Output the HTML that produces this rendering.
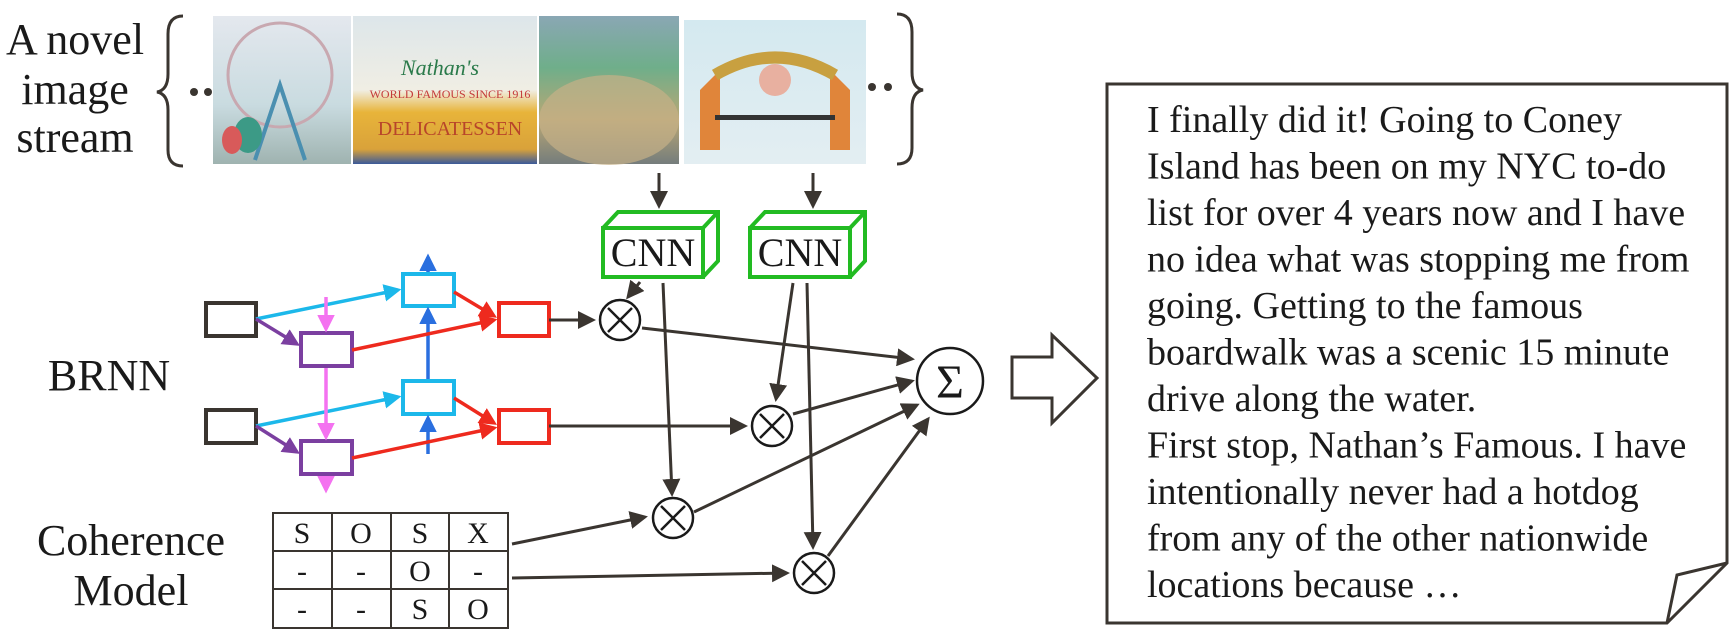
<!DOCTYPE html>
<html><head><meta charset="utf-8"><style>
html,body{margin:0;padding:0;background:#fff;}
svg{display:block;font-family:"Liberation Serif","Times New Roman",serif;}
svg text{font-family:"Liberation Serif","Times New Roman",serif;fill:#1a1a1a;}
</style></head><body>
<svg width="1734" height="640" viewBox="0 0 1734 640" xmlns="http://www.w3.org/2000/svg" font-family="Liberation Serif, serif">
<defs>
<marker id="ak" markerWidth="6" markerHeight="6" refX="5" refY="3" orient="auto" markerUnits="strokeWidth"><path d="M0,0 L6,3 L0,6 z" fill="#3a3530"/></marker>
<marker id="ac" markerWidth="5" markerHeight="5" refX="4" refY="2.5" orient="auto" markerUnits="strokeWidth"><path d="M0,0 L5,2.5 L0,5 z" fill="#1cb8ea"/></marker>
<marker id="ap" markerWidth="5" markerHeight="5" refX="4" refY="2.5" orient="auto" markerUnits="strokeWidth"><path d="M0,0 L5,2.5 L0,5 z" fill="#7b3fa0"/></marker>
<marker id="apk" markerWidth="5" markerHeight="5" refX="4" refY="2.5" orient="auto" markerUnits="strokeWidth"><path d="M0,0 L5,2.5 L0,5 z" fill="#f472f0"/></marker>
<marker id="ab" markerWidth="5" markerHeight="5" refX="4" refY="2.5" orient="auto" markerUnits="strokeWidth"><path d="M0,0 L5,2.5 L0,5 z" fill="#2a6fdf"/></marker>
<marker id="ar" markerWidth="5" markerHeight="5" refX="4" refY="2.5" orient="auto" markerUnits="strokeWidth"><path d="M0,0 L5,2.5 L0,5 z" fill="#ee2a1e"/></marker>
<linearGradient id="g1" x1="0" y1="0" x2="0" y2="1"><stop offset="0" stop-color="#e4e8ee"/><stop offset="0.6" stop-color="#c9dbe0"/><stop offset="1" stop-color="#9fb3b0"/></linearGradient>
<linearGradient id="g2" x1="0" y1="0" x2="0" y2="1"><stop offset="0" stop-color="#dde6ea"/><stop offset="0.5" stop-color="#f0eee4"/><stop offset="0.65" stop-color="#e8b43a"/><stop offset="0.9" stop-color="#d9a23a"/><stop offset="1" stop-color="#3b5a9a"/></linearGradient>
<linearGradient id="g3" x1="0" y1="0" x2="0" y2="1"><stop offset="0" stop-color="#8aa7b4"/><stop offset="0.35" stop-color="#6fae8a"/><stop offset="0.7" stop-color="#b9a774"/><stop offset="1" stop-color="#757d7c"/></linearGradient>
<linearGradient id="g4" x1="0" y1="0" x2="0" y2="1"><stop offset="0" stop-color="#d4e9f0"/><stop offset="1" stop-color="#e3eef2"/></linearGradient>
</defs>

<text x="75" y="54" font-size="44" text-anchor="middle">A novel</text>
<text x="75" y="104" font-size="44" text-anchor="middle">image</text>
<text x="75" y="152" font-size="44" text-anchor="middle">stream</text>
<text x="109" y="390" font-size="44" text-anchor="middle">BRNN</text>
<text x="131" y="555" font-size="44" text-anchor="middle">Coherence</text>
<text x="131" y="605" font-size="44" text-anchor="middle">Model</text>

<path d="M183,16 Q168,16 168,34 L168,74 Q168,90 157,92 Q168,94 168,110 L168,150 Q168,166 183,166" fill="none" stroke="#3a3530" stroke-width="3"/>
<path d="M897,14 Q912,14 912,32 L912,72 Q912,88 923,90 Q912,92 912,108 L912,148 Q912,164 897,164" fill="none" stroke="#3a3530" stroke-width="3"/>
<circle cx="194" cy="92" r="4" fill="#3a3530"/><circle cx="208" cy="92" r="4" fill="#3a3530"/>
<circle cx="872" cy="87" r="4" fill="#3a3530"/><circle cx="888" cy="87" r="4" fill="#3a3530"/>

<rect x="213" y="16" width="138" height="148" fill="url(#g1)"/>
<circle cx="280" cy="75" r="52" fill="none" stroke="#c8a8b0" stroke-width="3"/>
<path d="M255,160 L280,85 L305,160" fill="none" stroke="#4a8fb0" stroke-width="4"/>
<ellipse cx="248" cy="135" rx="14" ry="18" fill="#3c9a86"/>
<ellipse cx="232" cy="140" rx="10" ry="14" fill="#d85a5a"/>
<rect x="353" y="16" width="184" height="148" fill="url(#g2)"/>
<text x="440" y="75" font-size="22" style="fill:#2a7a4a" font-style="italic" text-anchor="middle">Nathan's</text>
<text x="450" y="98" font-size="12" style="fill:#c43a3a" text-anchor="middle">WORLD FAMOUS SINCE 1916</text>
<text x="450" y="135" font-size="20" style="fill:#b8452a" text-anchor="middle">DELICATESSEN</text>
<rect x="539" y="16" width="140" height="148" fill="url(#g3)"/>
<ellipse cx="609" cy="120" rx="70" ry="45" fill="#c6b088" opacity="0.7"/>
<rect x="684" y="20" width="182" height="144" fill="url(#g4)"/>
<path d="M700,150 L700,90 L720,70 L720,150 z" fill="#e0853a"/>
<path d="M850,150 L850,90 L830,70 L830,150 z" fill="#e0853a"/>
<path d="M715,75 Q775,40 835,75" fill="none" stroke="#c8a040" stroke-width="12"/>
<circle cx="775" cy="80" r="16" fill="#e8b0a0"/>
<rect x="715" y="115" width="120" height="5" fill="#333"/>

<line x1="659" y1="173" x2="659" y2="206" stroke="#3a3530" stroke-width="3" marker-end="url(#ak)"/>
<line x1="813" y1="173" x2="813" y2="206" stroke="#3a3530" stroke-width="3" marker-end="url(#ak)"/>

<g fill="none" stroke="#22bb22" stroke-width="4">
<rect x="603" y="228" width="100" height="49"/>
<path d="M603,228 L618,212 L718,212 L718,261 L703,277 M703,228 L718,212"/>
<rect x="750" y="228" width="100" height="49"/>
<path d="M750,228 L765,212 L865,212 L865,261 L850,277 M850,228 L865,212"/>
</g>
<text x="653" y="266" font-size="40" text-anchor="middle">CNN</text>
<text x="800" y="266" font-size="40" text-anchor="middle">CNN</text>

<g fill="#fff" stroke-width="4">
<rect x="206" y="303" width="50" height="33" stroke="#3a3530"/>
<rect x="206" y="410" width="50" height="33" stroke="#3a3530"/>
<rect x="301" y="333" width="51" height="33" stroke="#7b3fa0"/>
<rect x="301" y="441" width="51" height="33" stroke="#7b3fa0"/>
<rect x="403" y="274" width="51" height="32" stroke="#1cb8ea"/>
<rect x="403" y="381" width="51" height="33" stroke="#1cb8ea"/>
<rect x="499" y="303" width="50" height="33" stroke="#ee2a1e"/>
<rect x="499" y="410" width="50" height="33" stroke="#ee2a1e"/>
</g>
<g fill="none" stroke-width="3.5">
<line x1="256" y1="319" x2="398" y2="290" stroke="#1cb8ea" marker-end="url(#ac)"/>
<line x1="256" y1="426" x2="398" y2="397" stroke="#1cb8ea" marker-end="url(#ac)"/>
<line x1="256" y1="319" x2="297" y2="344" stroke="#7b3fa0" marker-end="url(#ap)"/>
<line x1="256" y1="426" x2="297" y2="452" stroke="#7b3fa0" marker-end="url(#ap)"/>
<line x1="326" y1="297" x2="326" y2="329" stroke="#f472f0" marker-end="url(#apk)"/>
<line x1="326" y1="368" x2="326" y2="437" stroke="#f472f0" marker-end="url(#apk)"/>
<line x1="326" y1="476" x2="326" y2="490" stroke="#f472f0" marker-end="url(#apk)"/>
<line x1="428" y1="272" x2="428" y2="257" stroke="#2a6fdf" marker-end="url(#ab)"/>
<line x1="428" y1="379" x2="428" y2="310" stroke="#2a6fdf" marker-end="url(#ab)"/>
<line x1="428" y1="454" x2="428" y2="418" stroke="#2a6fdf" marker-end="url(#ab)"/>
<line x1="454" y1="292" x2="494" y2="316" stroke="#ee2a1e" marker-end="url(#ar)"/>
<line x1="352" y1="350" x2="494" y2="320" stroke="#ee2a1e" marker-end="url(#ar)"/>
<line x1="454" y1="398" x2="494" y2="423" stroke="#ee2a1e" marker-end="url(#ar)"/>
<line x1="352" y1="458" x2="494" y2="428" stroke="#ee2a1e" marker-end="url(#ar)"/>
</g>

<g stroke="#3a3530" stroke-width="2" fill="none">
<rect x="273" y="513" width="235" height="115"/>
<line x1="273" y1="551" x2="508" y2="551"/><line x1="273" y1="589" x2="508" y2="589"/>
<line x1="332" y1="513" x2="332" y2="628"/><line x1="391" y1="513" x2="391" y2="628"/><line x1="449" y1="513" x2="449" y2="628"/>
</g>
<g font-size="30" text-anchor="middle">
<text x="302" y="543">S</text><text x="361" y="543">O</text><text x="420" y="543">S</text><text x="478" y="543">X</text>
<text x="302" y="581">-</text><text x="361" y="581">-</text><text x="420" y="581">O</text><text x="478" y="581">-</text>
<text x="302" y="619">-</text><text x="361" y="619">-</text><text x="420" y="619">S</text><text x="478" y="619">O</text>
</g>

<g stroke="#3a3530" stroke-width="3" fill="none">
<line x1="549" y1="320" x2="593" y2="320" marker-end="url(#ak)"/>
<line x1="549" y1="426" x2="745" y2="426" marker-end="url(#ak)"/>
<line x1="640" y1="282" x2="628" y2="297" marker-end="url(#ak)"/>
<line x1="663" y1="283" x2="672" y2="494" marker-end="url(#ak)"/>
<line x1="793" y1="283" x2="776" y2="399" marker-end="url(#ak)"/>
<line x1="807" y1="283" x2="813" y2="547" marker-end="url(#ak)"/>
<line x1="642" y1="328" x2="912" y2="359" marker-end="url(#ak)"/>
<line x1="793" y1="414" x2="912" y2="381" marker-end="url(#ak)"/>
<line x1="694" y1="512" x2="917" y2="405" marker-end="url(#ak)"/>
<line x1="828" y1="556" x2="928" y2="419" marker-end="url(#ak)"/>
<line x1="512" y1="544" x2="645" y2="517" marker-end="url(#ak)"/>
<line x1="512" y1="578" x2="787" y2="573" marker-end="url(#ak)"/>
</g>
<g stroke="#1a1a1a" stroke-width="2.5" fill="#fff">
<circle cx="620" cy="320" r="20"/><circle cx="772" cy="426" r="20"/>
<circle cx="673" cy="518" r="20"/><circle cx="814" cy="573" r="20"/>
<circle cx="950" cy="381" r="33"/>
</g>
<g stroke="#1a1a1a" stroke-width="2.5">
<path d="M608,308 L632,332 M632,308 L608,332"/>
<path d="M760,414 L784,438 M784,414 L760,438"/>
<path d="M661,506 L685,530 M685,506 L661,530"/>
<path d="M802,561 L826,585 M826,561 L802,585"/>
</g>
<text x="950" y="398" font-size="48" text-anchor="middle">Σ</text>

<path d="M1012,357 L1052,357 L1052,335 L1097,378 L1052,423 L1052,398 L1012,398 z" fill="#fff" stroke="#3a3530" stroke-width="3"/>

<path d="M1107,84 L1727,84 L1727,563 L1667,623 L1107,623 z" fill="#fff" stroke="#3a3530" stroke-width="3"/>
<path d="M1727,563 L1677,575 L1667,623" fill="none" stroke="#3a3530" stroke-width="3"/>
<g font-size="38">
<text x="1147" y="132">I finally did it! Going to Coney</text>
<text x="1147" y="178.5">Island has been on my NYC to-do</text>
<text x="1147" y="225">list for over 4 years now and I have</text>
<text x="1147" y="271.5">no idea what was stopping me from</text>
<text x="1147" y="318">going. Getting to the famous</text>
<text x="1147" y="364.5">boardwalk was a scenic 15 minute</text>
<text x="1147" y="411">drive along the water.</text>
<text x="1147" y="457.5">First stop, Nathan’s Famous. I have</text>
<text x="1147" y="504">intentionally never had a hotdog</text>
<text x="1147" y="550.5">from any of the other nationwide</text>
<text x="1147" y="597">locations because …</text>
</g>
</svg>
</body></html>
